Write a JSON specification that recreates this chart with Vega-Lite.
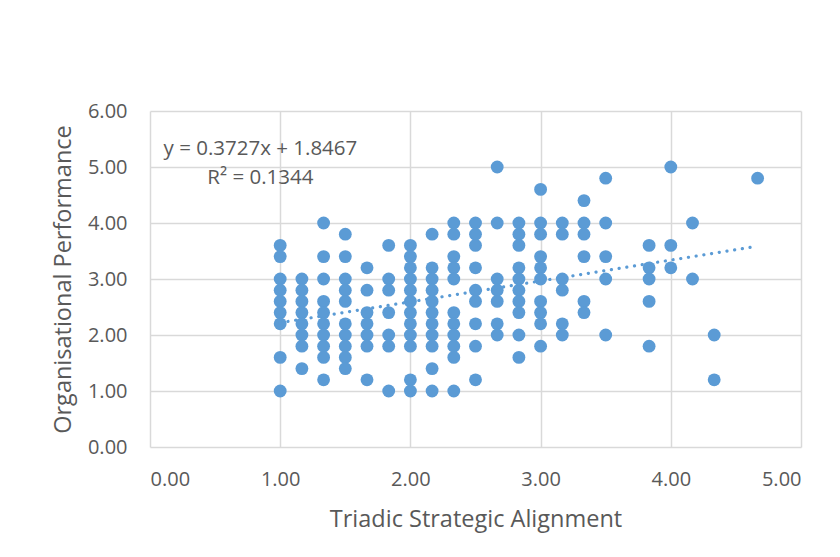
{
  "$schema": "https://vega.github.io/schema/vega-lite/v6.json",
  "autosize": "none",
  "width": 651,
  "height": 336,
  "padding": {"left": 150, "top": 111, "right": 39, "bottom": 110},
  "background": "white",
  "config": {
    "view": {"stroke": null},
    "font": "Open Sans",
    "axis": {
      "grid": true,
      "gridColor": "#D9D9D9",
      "gridWidth": 1.5,
      "domain": false,
      "ticks": false,
      "labelFont": "Open Sans",
      "labelFontSize": 20,
      "labelColor": "#595959",
      "titleFont": "Open Sans",
      "titleFontSize": 23.5,
      "titleFontWeight": "normal",
      "titleColor": "#595959"
    }
  },
  "layer": [
    {
      "data": {
        "values": [
          {"x": 1, "y": 3.6}, {"x": 1, "y": 3.4}, {"x": 1, "y": 3.0}, {"x": 1, "y": 2.8}, {"x": 1, "y": 2.6}, {"x": 1, "y": 2.4}, {"x": 1, "y": 2.2}, {"x": 1, "y": 1.6}, {"x": 1, "y": 1.0},
          {"x": 1.1667, "y": 3.0}, {"x": 1.1667, "y": 2.8}, {"x": 1.1667, "y": 2.6}, {"x": 1.1667, "y": 2.4}, {"x": 1.1667, "y": 2.2}, {"x": 1.1667, "y": 2.0}, {"x": 1.1667, "y": 1.8}, {"x": 1.1667, "y": 1.4},
          {"x": 1.3333, "y": 4.0}, {"x": 1.3333, "y": 3.4}, {"x": 1.3333, "y": 3.0}, {"x": 1.3333, "y": 2.6}, {"x": 1.3333, "y": 2.4}, {"x": 1.3333, "y": 2.2}, {"x": 1.3333, "y": 2.0}, {"x": 1.3333, "y": 1.8}, {"x": 1.3333, "y": 1.6}, {"x": 1.3333, "y": 1.2},
          {"x": 1.5, "y": 3.8}, {"x": 1.5, "y": 3.4}, {"x": 1.5, "y": 3.0}, {"x": 1.5, "y": 2.8}, {"x": 1.5, "y": 2.6}, {"x": 1.5, "y": 2.2}, {"x": 1.5, "y": 2.0}, {"x": 1.5, "y": 1.8}, {"x": 1.5, "y": 1.6}, {"x": 1.5, "y": 1.4},
          {"x": 1.6667, "y": 3.2}, {"x": 1.6667, "y": 2.8}, {"x": 1.6667, "y": 2.4}, {"x": 1.6667, "y": 2.2}, {"x": 1.6667, "y": 2.0}, {"x": 1.6667, "y": 1.8}, {"x": 1.6667, "y": 1.2},
          {"x": 1.8333, "y": 3.6}, {"x": 1.8333, "y": 3.0}, {"x": 1.8333, "y": 2.8}, {"x": 1.8333, "y": 2.4}, {"x": 1.8333, "y": 2.0}, {"x": 1.8333, "y": 1.8}, {"x": 1.8333, "y": 1.0},
          {"x": 2, "y": 3.6}, {"x": 2, "y": 3.4}, {"x": 2, "y": 3.2}, {"x": 2, "y": 3.0}, {"x": 2, "y": 2.8}, {"x": 2, "y": 2.6}, {"x": 2, "y": 2.4}, {"x": 2, "y": 2.2}, {"x": 2, "y": 2.0}, {"x": 2, "y": 1.8}, {"x": 2, "y": 1.2}, {"x": 2, "y": 1.0},
          {"x": 2.1667, "y": 3.8}, {"x": 2.1667, "y": 3.2}, {"x": 2.1667, "y": 3.0}, {"x": 2.1667, "y": 2.8}, {"x": 2.1667, "y": 2.6}, {"x": 2.1667, "y": 2.4}, {"x": 2.1667, "y": 2.2}, {"x": 2.1667, "y": 2.0}, {"x": 2.1667, "y": 1.8}, {"x": 2.1667, "y": 1.4}, {"x": 2.1667, "y": 1.0},
          {"x": 2.3333, "y": 4.0}, {"x": 2.3333, "y": 3.8}, {"x": 2.3333, "y": 3.4}, {"x": 2.3333, "y": 3.2}, {"x": 2.3333, "y": 3.0}, {"x": 2.3333, "y": 2.4}, {"x": 2.3333, "y": 2.2}, {"x": 2.3333, "y": 2.0}, {"x": 2.3333, "y": 1.8}, {"x": 2.3333, "y": 1.6}, {"x": 2.3333, "y": 1.0},
          {"x": 2.5, "y": 4.0}, {"x": 2.5, "y": 3.8}, {"x": 2.5, "y": 3.6}, {"x": 2.5, "y": 3.2}, {"x": 2.5, "y": 2.8}, {"x": 2.5, "y": 2.6}, {"x": 2.5, "y": 2.2}, {"x": 2.5, "y": 1.8}, {"x": 2.5, "y": 1.2},
          {"x": 2.6667, "y": 5.0}, {"x": 2.6667, "y": 4.0}, {"x": 2.6667, "y": 3.0}, {"x": 2.6667, "y": 2.8}, {"x": 2.6667, "y": 2.6}, {"x": 2.6667, "y": 2.2}, {"x": 2.6667, "y": 2.0},
          {"x": 2.8333, "y": 4.0}, {"x": 2.8333, "y": 3.8}, {"x": 2.8333, "y": 3.6}, {"x": 2.8333, "y": 3.2}, {"x": 2.8333, "y": 3.0}, {"x": 2.8333, "y": 2.8}, {"x": 2.8333, "y": 2.6}, {"x": 2.8333, "y": 2.4}, {"x": 2.8333, "y": 2.0}, {"x": 2.8333, "y": 1.6},
          {"x": 3, "y": 4.6}, {"x": 3, "y": 4.0}, {"x": 3, "y": 3.8}, {"x": 3, "y": 3.4}, {"x": 3, "y": 3.2}, {"x": 3, "y": 3.0}, {"x": 3, "y": 2.6}, {"x": 3, "y": 2.4}, {"x": 3, "y": 2.2}, {"x": 3, "y": 1.8},
          {"x": 3.1667, "y": 4.0}, {"x": 3.1667, "y": 3.8}, {"x": 3.1667, "y": 3.0}, {"x": 3.1667, "y": 2.8}, {"x": 3.1667, "y": 2.2}, {"x": 3.1667, "y": 2.0},
          {"x": 3.3333, "y": 4.4}, {"x": 3.3333, "y": 4.0}, {"x": 3.3333, "y": 3.8}, {"x": 3.3333, "y": 3.4}, {"x": 3.3333, "y": 2.6}, {"x": 3.3333, "y": 2.4},
          {"x": 3.5, "y": 4.8}, {"x": 3.5, "y": 4.0}, {"x": 3.5, "y": 3.4}, {"x": 3.5, "y": 3.0}, {"x": 3.5, "y": 2.0},
          {"x": 3.8333, "y": 3.6}, {"x": 3.8333, "y": 3.2}, {"x": 3.8333, "y": 3.0}, {"x": 3.8333, "y": 2.6}, {"x": 3.8333, "y": 1.8},
          {"x": 4, "y": 5.0}, {"x": 4, "y": 3.6}, {"x": 4, "y": 3.2},
          {"x": 4.1667, "y": 4.0}, {"x": 4.1667, "y": 3.0},
          {"x": 4.3333, "y": 2.0}, {"x": 4.3333, "y": 1.2},
          {"x": 4.6667, "y": 4.8}
        ]
      },
      "mark": {"type": "circle", "size": 165, "color": "#5B9BD5", "opacity": 1},
      "encoding": {
        "x": {
          "field": "x", "type": "quantitative",
          "scale": {"domain": [0, 5], "nice": false, "zero": false},
          "axis": {"values": [0, 1, 2, 3, 4, 5], "format": ".2f", "labelPadding": 22, "titlePadding": 18, "title": "Triadic Strategic Alignment"}
        },
        "y": {
          "field": "y", "type": "quantitative",
          "scale": {"domain": [0, 6], "nice": false, "zero": false},
          "axis": {"values": [0, 1, 2, 3, 4, 5, 6], "format": ".2f", "labelPadding": 23, "titlePadding": 12, "title": "Organisational Performance"}
        }
      }
    },
    {
      "data": {"values": [{"x": 1, "y": 2.2194}, {"x": 4.6667, "y": 3.586}]},
      "mark": {"type": "line", "color": "#5B9BD5", "strokeWidth": 3.2, "strokeDash": [0.1, 7.7], "strokeCap": "round"},
      "encoding": {
        "x": {"field": "x", "type": "quantitative"},
        "y": {"field": "y", "type": "quantitative"}
      }
    },
    {
      "data": {"values": [{}]},
      "mark": {"type": "text", "text": "y = 0.3727x + 1.8467", "font": "Open Sans", "fontSize": 20.5, "color": "#595959", "align": "center", "baseline": "middle"},
      "encoding": {
        "x": {"datum": 0.848, "type": "quantitative"},
        "y": {"datum": 5.316, "type": "quantitative"}
      }
    },
    {
      "data": {"values": [{}]},
      "mark": {"type": "text", "text": "R² = 0.1344", "font": "Open Sans", "fontSize": 20.5, "color": "#595959", "align": "center", "baseline": "middle"},
      "encoding": {
        "x": {"datum": 0.848, "type": "quantitative"},
        "y": {"datum": 4.798, "type": "quantitative"}
      }
    }
  ]
}
